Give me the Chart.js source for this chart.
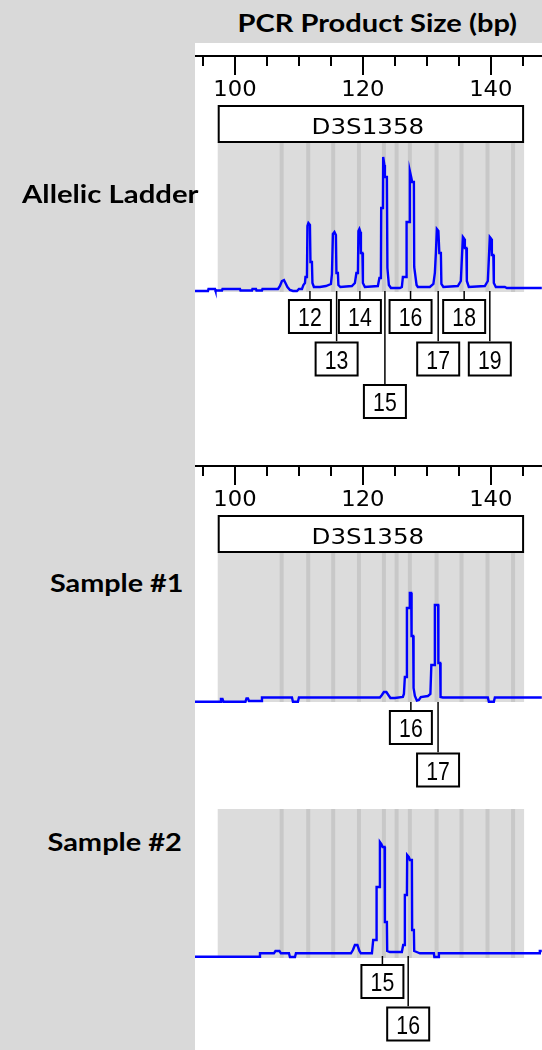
<!DOCTYPE html>
<html><head><meta charset="utf-8">
<script src="https://cdn.jsdelivr.net/npm/chart.js@4"></script>
<style>
html,body{margin:0;padding:0;}
body{width:542px;height:1050px;background:#d9d9d9;position:relative;overflow:hidden;font-family:Lato,'Open Sans',sans-serif;}
#panel{position:absolute;left:195px;top:43px;width:347px;height:1007px;background:#fff;}
.lbl{position:absolute;font-weight:700;color:#000;white-space:nowrap;line-height:30px;height:30px;transform-origin:50% 50%;}
canvas{position:absolute;}
</style></head><body>
<div id="panel"></div>
<canvas id="c1" width="347" height="390" style="left:195px;top:43px"></canvas>
<canvas id="c2" width="347" height="345" style="left:195px;top:453px"></canvas>
<canvas id="c3" width="347" height="250" style="left:195px;top:800px"></canvas>
<div class="lbl" data-cx="377" data-cy="22" data-w="280" style="font-size:25px">PCR Product Size (bp)</div>
<div class="lbl" data-cx="110.5" data-cy="194" data-w="177" style="font-size:24px">Allelic Ladder</div>
<div class="lbl" data-cx="116.5" data-cy="583" data-w="133" style="font-size:24px">Sample #1</div>
<div class="lbl" data-cx="114" data-cy="842" data-w="134" style="font-size:24px">Sample #2</div>
<script>
// ---- data ----
const sizeRangeBp = [93.75, 148];
const markerName = 'D3S1358';
const markerRange = [97.3, 145.2];
const binSizes = [107.30, 111.45, 115.36, 119.38, 123.28, 125.27, 127.34, 131.52, 135.42, 139.48, 143.48];
const rulerTicks = [95, 100, 105, 110, 115, 120, 125, 130, 135, 140, 145];
const rulerLabelValues = [100, 120, 140];
const rulerLabels = ['100', '120', '140'];

const ladderX = [93.75,95.78,95.86,96.88,96.95,97.97,98.05,100.78,100.86,102.66,102.73,103.28,103.36,104.22,104.30,106.72,107.03,107.34,107.66,107.89,108.20,108.59,109.06,109.69,110.00,110.47,110.70,
 110.94,111.02,111.25,111.33,111.48,111.72,111.80,112.03,112.11,112.34,113.28,
 114.22,115.00,115.16,115.31,115.55,115.78,115.86,116.09,116.17,116.48,
 118.28,118.75,118.98,119.22,119.30,119.45,119.61,119.69,119.92,120.00,120.31,
 122.34,122.58,122.81,122.86,123.13,123.17,123.36,123.44,123.75,123.83,124.06,124.38,
 125.78,126.09,126.25,126.80,126.83,127.27,127.34,127.58,127.70,127.97,128.02,128.39,128.59,
 130.47,131.02,131.25,131.41,131.56,131.80,131.95,132.19,132.27,132.58,
 134.84,135.31,135.47,135.63,135.86,135.94,136.17,136.25,136.56,
 139.06,139.53,139.69,139.84,140.08,140.16,140.39,140.47,140.78,142.19,142.50,147.97];
const ladderRFU = [-20,-20,0,0,-15,-15,0,0,-15,-15,0,0,-15,-15,0,0,30,80,90,60,20,-10,-20,-20,0,0,40,
 60,120,120,630,660,640,270,270,60,20,20,
 30,50,150,550,570,540,160,160,40,20,
 30,60,160,160,580,600,570,360,360,60,20,
 30,110,110,810,810,1320,1240,1120,1120,210,40,10,
 10,20,120,120,670,670,1180,1110,1070,1070,220,40,20,
 20,50,160,360,600,580,360,360,50,20,
 30,80,300,520,500,410,410,80,20,
 30,80,300,520,500,340,340,60,20,20,10,10];
const ladderAlleles = ['12','13','14','15','16','17','18','19'];
const ladderAlleleBp = [111.72, 115.89, 119.53, 123.44, 127.45, 131.77, 135.83, 139.84];

const sample1X = [93.75,97.66,97.81,98.05,98.20,101.64,101.80,102.03,102.19,104.14,104.22,108.91,109.06,109.84,110.00,
 122.66,122.97,123.28,123.67,123.98,124.30,125.00,
 126.25,126.41,126.56,126.80,126.88,127.27,127.34,127.55,127.61,127.86,127.92,128.13,128.44,128.75,129.06,
 130.16,130.55,130.70,131.17,131.25,131.77,131.80,132.08,132.14,132.50,139.53,139.69,140.47,140.63,147.97];
const sample1RFU = [-17,-17,10,10,-17,-17,15,15,-10,-10,25,25,-17,-17,25,
 25,50,80,80,50,20,20,
 30,60,230,230,920,920,1070,1070,640,640,120,40,-5,0,30,
 40,60,350,350,950,950,370,370,30,25,25,-17,-17,25,25];
const sample1Alleles = ['16','17'];
const sample1AlleleBp = [127.50, 131.75];

const sample2X = [93.75,103.83,103.91,106.09,106.33,106.95,107.19,108.44,108.59,109.38,109.53,
 118.13,118.44,118.75,119.14,119.45,119.69,
 121.41,121.61,122.08,122.14,122.61,122.66,122.89,123.08,123.39,123.44,123.75,123.80,124.22,
 126.09,126.30,126.52,126.56,126.88,126.92,127.19,127.34,127.66,127.70,127.97,128.02,128.59,128.91,
 131.09,131.17,131.77,131.88,147.58,147.66,147.97];
const sample2RFU = [-27,-27,7,7,30,30,7,7,-30,-30,7,
 7,40,90,90,30,7,
 7,140,140,670,670,1120,1100,1070,1070,320,320,30,20,
 20,90,90,590,590,990,970,940,940,240,240,30,15,7,
 7,-30,-30,7,7,30,30];
const sample2Alleles = ['15','16'];
const sample2AlleleBp = [123.05, 127.08];

// ---- plugin drawing marker band, bins, ruler and allele labels ----
const gmPlugin = {
  id: 'genemapper',
  beforeDatasetsDraw(chart, args, o) {
    const {ctx, chartArea: a, scales: {x}} = chart;
    const m0 = x.getPixelForValue(markerRange[0]), m1 = x.getPixelForValue(markerRange[1]);
    ctx.save();
    ctx.fillStyle = '#dcdcdc';
    ctx.fillRect(m0, a.top, m1 - m0, a.bottom - a.top);
    ctx.fillStyle = '#c8c8c8';
    binSizes.forEach(b => { const p = x.getPixelForValue(b); ctx.fillRect(p - 2, a.top, 4, a.bottom - a.top); });
    if (o.ruler) {
      const axisY = a.top - 86;
      ctx.strokeStyle = '#000'; ctx.lineWidth = 2;
      ctx.beginPath(); ctx.moveTo(a.left, axisY); ctx.lineTo(a.right, axisY); ctx.stroke();
      rulerTicks.forEach(t => {
        const p = Math.round(x.getPixelForValue(t));
        const major = rulerLabelValues.includes(t);
        ctx.beginPath(); ctx.moveTo(p, axisY); ctx.lineTo(p, axisY + (major ? 19 : 10)); ctx.stroke();
      });
      ctx.fillStyle = '#000';
      ctx.font = '21px "DejaVu Sans"';
      ctx.textAlign = 'center'; ctx.textBaseline = 'alphabetic';
      rulerLabelValues.forEach((v, i) => {
        const p = x.getPixelForValue(v);
        ctx.save(); ctx.translate(p, axisY + 40); ctx.scale(1.08, 1); ctx.fillText(rulerLabels[i], 0, 0); ctx.restore();
      });
      // marker box
      const bt = a.top - 37;
      ctx.fillStyle = '#fff';
      ctx.fillRect(m0, bt, m1 - m0, 38);
      ctx.strokeRect(m0 + 1, bt + 1, m1 - m0 - 2, 36);
      ctx.fillStyle = '#000';
      ctx.save(); ctx.translate((m0 + m1) / 2 - 3, a.top - 8); ctx.scale(1.17, 1); ctx.fillText(markerName, 0, 0); ctx.restore();
    }
    ctx.restore();
  },
  afterDatasetsDraw(chart, args, o) {
    if (!o.labels) return;
    const {ctx, scales: {x, y}} = chart;
    const base = y.getPixelForValue(0);
    const W = 44, H = 35, G = 5.5, R0 = 10, RS = 42.5;
    const rowsEnd = [];
    const placed = o.labels.map((t, i) => {
      const cx = x.getPixelForValue(o.sizes[i]);
      const l = cx - W / 2;
      let r = 0;
      while (rowsEnd[r] !== undefined && l < rowsEnd[r] + G) r++;
      rowsEnd[r] = l + W;
      return {t, cx, l, top: base + R0 + r * RS};
    });
    ctx.save();
    ctx.strokeStyle = '#000';
    ctx.lineWidth = 1.5;
    placed.forEach(p => { ctx.beginPath(); ctx.moveTo(p.cx, base + 2); ctx.lineTo(p.cx, p.top); ctx.stroke(); });
    ctx.font = '25px "Liberation Sans"';
    ctx.textAlign = 'center'; ctx.textBaseline = 'alphabetic';
    placed.forEach(p => {
      ctx.fillStyle = '#fff'; ctx.fillRect(p.l, p.top, W, H);
      ctx.lineWidth = 2; ctx.strokeRect(p.l + 1, p.top + 1, W - 2, H - 2);
      ctx.fillStyle = '#000';
      ctx.save(); ctx.translate(p.l + W / 2, p.top + 27); ctx.scale(0.85, 1); ctx.fillText(p.t, 0, 0); ctx.restore();
    });
    ctx.restore();
  }
};

function makeChart(id, xs, ys, yMin, yMax, padTop, padBottom, opts) {
  return new Chart(document.getElementById(id), {
    type: 'line',
    data: { datasets: [{
      data: xs.map((v, i) => ({x: v, y: ys[i]})),
      borderColor: '#0000ff', borderWidth: 2.4, pointRadius: 0, tension: 0, fill: false, clip: false
    }] },
    options: {
      responsive: false, animation: false, devicePixelRatio: 1,
      layout: {padding: {top: padTop, bottom: padBottom, left: 0, right: 0}},
      scales: {
        x: {type: 'linear', min: sizeRangeBp[0], max: sizeRangeBp[1], display: false},
        y: {type: 'linear', min: yMin, max: yMax, display: false}
      },
      plugins: {legend: {display: false}, tooltip: {enabled: false}, genemapper: opts}
    },
    plugins: [gmPlugin]
  });
}

makeChart('c1', ladderX, ladderRFU, -30, 1470, 99, 141, {ruler: true, labels: ladderAlleles, sizes: ladderAlleleBp});
makeChart('c2', sample1X, sample1RFU, -20, 1480, 99, 96, {ruler: true, labels: sample1Alleles, sizes: sample1AlleleBp});
makeChart('c3', sample2X, sample2RFU, -40, 1450, 9, 92, {ruler: false, labels: sample2Alleles, sizes: sample2AlleleBp});

document.querySelectorAll('.lbl').forEach(el => {
  const w = el.offsetWidth;
  const cx = +el.dataset.cx, cy = +el.dataset.cy, tw = +el.dataset.w;
  el.style.left = (cx - w / 2) + 'px';
  el.style.top = (cy - 15) + 'px';
  el.style.transform = 'scaleX(' + (tw / w) + ')';
});
</script>
</body></html>
